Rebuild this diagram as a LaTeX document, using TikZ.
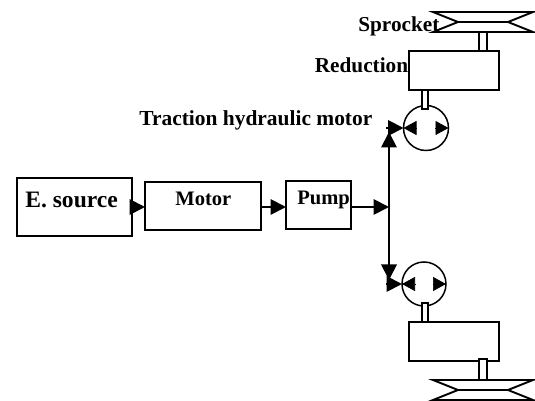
\documentclass[tikz,border=0pt]{standalone}
\usepackage{fontspec}
\setmainfont{Liberation Serif}
\usetikzlibrary{arrows.meta,positioning}
\tikzset{
  block/.style={draw,line width=1.1pt,inner sep=0pt,outer sep=0pt},
  shaft/.style={draw,fill=white,line width=1pt,inner sep=0pt,outer sep=0pt},
  hydro/.style={draw,circle,line width=.85pt,inner sep=0pt,outer sep=0pt},
  wheel/.style={line width=1.1pt,line join=miter},
  flow/.style={line width=1.1pt,-{Triangle[length=.31cm,width=.31cm]}},
  port/.style={line width=.4pt,-{Triangle[length=.26cm,width=.28cm]}},
  block label/.style={font=\bfseries\fontsize{11.7}{14}\selectfont,anchor=base west,inner sep=0pt},
  part label/.style={block label,font=\bfseries\fontsize{12.1}{14}\selectfont}
}
\begin{document}
\begin{tikzpicture}
  \useasboundingbox (0,0) rectangle (10.70,8.02);

  % Main power line.
  \node[block,minimum width=2.31cm,minimum height=1.16cm] (src) at (1.49,3.88) {};
  \node[block,minimum width=2.32cm,minimum height=.96cm] (mtr) at (4.06,3.90) {};
  \node[block,minimum width=1.30cm,minimum height=.96cm] (pmp) at (6.37,3.92) {};
  \coordinate (bus)  at (7.78,3.88);
  \coordinate (bust) at (7.78,5.38);
  \coordinate (busb) at (7.78,2.42);
  \coordinate (jt)   at (7.72,5.46);
  \coordinate (jb)   at (7.72,2.34);

  % Upper drive.
  \node[block,minimum width=1.80cm,minimum height=.78cm] (redt) at (9.08,6.61) {};
  \node[hydro,minimum size=.90cm] (hmt) at (8.52,5.46) {};
  \node[shaft,minimum width=.13cm,minimum height=.38cm] (sft1) at (8.50,6.03) {};
  \node[shaft,minimum width=.15cm,minimum height=.38cm] (sft2) at (9.66,7.19) {};
  \draw[wheel] (8.66,7.78)--(10.66,7.78)--(10.16,7.58)--(9.16,7.58)--cycle
        (9.16,7.58)--(10.16,7.58)--(10.66,7.38)--(8.66,7.38)--cycle;

  % Lower drive.
  \node[block,minimum width=1.80cm,minimum height=.78cm] (redb) at (9.08,1.19) {};
  \node[hydro,minimum size=.88cm] (hmb) at (8.48,2.34) {};
  \node[shaft,minimum width=.13cm,minimum height=.38cm] (sft3) at (8.50,1.77) {};
  \node[shaft,minimum width=.15cm,minimum height=.42cm] (sft4) at (9.66,.63) {};
  \draw[wheel] (8.66,.42)--(10.66,.42)--(10.16,.22)--(9.16,.22)--cycle
        (9.16,.22)--(10.16,.22)--(10.66,.02)--(8.66,.02)--cycle;

  \draw[flow] (src.east) -- (mtr.west |- src.east);
  \draw[flow] (mtr.east |- src.east) -- (pmp.west |- src.east);
  \draw[flow] (pmp.east |- bus) -- (bus);
  \draw[flow] (bus) -- (bust);
  \draw[flow] (bus) -- (busb);
  \draw[flow] (jt) -- (hmt.west);
  \draw[flow] (jb) -- (hmb.west);

  % Heads inside the two motors.
  \foreach \m in {hmt,hmb} {
    \draw[port] ([xshift=.27cm]\m.west) -- (\m.west);
    \draw[port] ([xshift=-.27cm]\m.east) -- (\m.east);
  }

  \node[block label,font=\bfseries\fontsize{13.4}{16}\selectfont] (lsrc) at (.50,3.86) {E. source};
  \node[block label] (lmtr) at (3.50,3.90) {Motor};
  \node[block label] (lpmp) at (5.94,3.92) {Pump};
  \node[part label,font=\bfseries\fontsize{12.2}{14}\selectfont] (lhmt) at (2.78,5.50) {Traction hydraulic motor};
  \node[part label] (lred) at (6.29,6.56) {Reduction};
  \node[part label] (lspr) at (7.16,7.38) {Sprocket};
\end{tikzpicture}
\end{document}
